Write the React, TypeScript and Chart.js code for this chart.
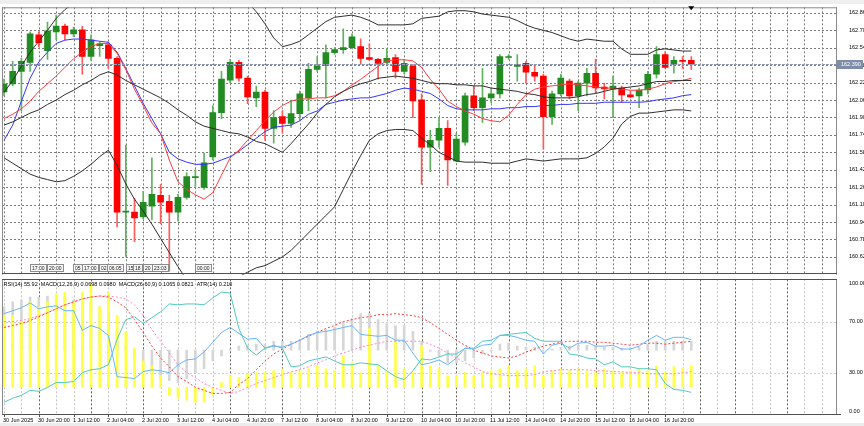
import React, { useEffect, useRef } from 'react';
import { Chart, registerables } from 'chart.js';

Chart.register(...registerables);

// ---------------- data ----------------
const TIME_LABELS = ['30 Jun 2025', '30 Jun 20:00', '1 Jul 12:00', '2 Jul 04:00', '2 Jul 20:00', '3 Jul 12:00', '4 Jul 04:00', '4 Jul 20:00', '7 Jul 12:00', '8 Jul 04:00', '8 Jul 20:00', '9 Jul 12:00', '10 Jul 04:00', '10 Jul 20:00', '11 Jul 12:00', '14 Jul 04:00', '14 Jul 20:00', '15 Jul 12:00', '16 Jul 04:00', '16 Jul 20:00'];
const PRICE_TICKS = [160.62, 160.78, 160.94, 161.10, 161.26, 161.42, 161.58, 161.74, 161.90, 162.06, 162.22, 162.38, 162.54, 162.70, 162.86];
const OSC_TICKS = [0, 30, 70, 100];
const OSC_GRID = [30, 70];

const OPEN = [162.134, 162.207, 162.324, 162.406, 162.659, 162.514, 162.686, 162.740, 162.668, 162.704, 162.460, 162.559, 162.568, 162.442, 161.031, 161.031, 160.986, 161.086, 161.185, 161.131, 161.031, 161.167, 161.348, 161.257, 161.538, 161.945, 162.243, 162.406, 162.261, 162.080, 162.134, 161.800, 161.908, 161.845, 161.935, 162.080, 162.342, 162.378, 162.496, 162.523, 162.541, 162.550, 162.451, 162.433, 162.406, 162.451, 162.324, 162.369, 162.062, 161.628, 161.691, 161.800, 161.502, 161.673, 162.098, 161.990, 162.080, 162.116, 162.451, 162.369, 162.396, 162.315, 162.279, 161.908, 162.116, 162.234, 162.098, 162.216, 162.306, 162.180, 162.162, 162.171, 162.107, 162.098, 162.152, 162.297, 162.478, 162.387, 162.424, 162.424];
const HIGH = [162.252, 162.415, 162.442, 162.686, 162.686, 162.776, 162.839, 162.758, 162.731, 162.740, 162.659, 162.595, 162.595, 162.460, 161.646, 161.158, 161.221, 161.529, 161.285, 161.185, 161.194, 161.393, 161.420, 161.574, 162.008, 162.324, 162.433, 162.424, 162.279, 162.189, 162.152, 161.963, 161.963, 162.053, 162.143, 162.396, 162.460, 162.568, 162.541, 162.713, 162.668, 162.622, 162.577, 162.442, 162.532, 162.478, 162.433, 162.387, 162.116, 161.782, 161.899, 161.872, 161.755, 162.125, 162.189, 162.351, 162.171, 162.478, 162.478, 162.478, 162.415, 162.387, 162.297, 162.143, 162.297, 162.252, 162.234, 162.351, 162.433, 162.216, 162.279, 162.189, 162.143, 162.171, 162.324, 162.550, 162.505, 162.460, 162.460, 162.460];
const LOW = [162.098, 162.189, 161.963, 162.324, 162.550, 162.433, 162.613, 162.613, 162.641, 162.297, 162.424, 162.460, 162.351, 160.896, 160.625, 160.760, 160.968, 160.959, 160.923, 160.489, 160.950, 161.149, 161.267, 161.239, 161.511, 161.890, 162.216, 162.234, 162.026, 161.999, 161.691, 161.664, 161.755, 161.809, 161.872, 161.963, 162.324, 162.080, 162.478, 162.487, 162.532, 162.387, 162.424, 162.252, 162.387, 162.261, 162.297, 161.899, 161.285, 161.402, 161.628, 161.276, 161.493, 161.646, 161.963, 161.854, 162.035, 162.080, 162.433, 162.234, 162.216, 162.234, 161.610, 161.836, 162.098, 162.071, 161.963, 162.098, 162.125, 162.071, 161.899, 162.035, 162.080, 161.990, 162.116, 162.261, 162.351, 162.306, 162.351, 162.342];
const CLOSE = [162.207, 162.324, 162.415, 162.668, 162.586, 162.695, 162.740, 162.668, 162.704, 162.460, 162.613, 162.577, 162.442, 161.031, 161.040, 160.977, 161.122, 161.194, 161.122, 161.031, 161.167, 161.357, 161.357, 161.483, 161.945, 162.252, 162.406, 162.261, 162.089, 162.134, 161.800, 161.899, 161.845, 161.935, 162.116, 162.342, 162.369, 162.496, 162.523, 162.541, 162.641, 162.442, 162.433, 162.396, 162.442, 162.324, 162.396, 162.053, 161.628, 161.691, 161.800, 161.511, 161.701, 162.098, 161.990, 162.080, 162.116, 162.460, 162.460, 162.387, 162.315, 162.279, 161.908, 162.116, 162.261, 162.098, 162.216, 162.306, 162.171, 162.162, 162.189, 162.107, 162.089, 162.152, 162.297, 162.478, 162.360, 162.424, 162.415, 162.390];

const BB_UPPER = [162.13, 162.24, 162.37, 162.50, 162.60, 162.70, 162.81, 162.89, 162.95, 162.98, 163.01, 163.04, 163.05, 163.12, 163.20, 163.25, 163.28, 163.31, 163.37, 163.39, 163.41, 163.43, 163.39, 163.35, 163.30, 163.23, 163.14, 163.05, 162.96, 162.87, 162.76, 162.63, 162.55, 162.57, 162.60, 162.66, 162.72, 162.78, 162.82, 162.83, 162.84, 162.82, 162.79, 162.75, 162.75, 162.75, 162.75, 162.76, 162.81, 162.82, 162.83, 162.87, 162.88, 162.88, 162.87, 162.85, 162.84, 162.83, 162.82, 162.79, 162.75, 162.72, 162.70, 162.68, 162.65, 162.62, 162.60, 162.62, 162.61, 162.60, 162.60, 162.53, 162.48, 162.48, 162.48, 162.52, 162.53, 162.52, 162.51, 162.51];
const BB_MIDDLE = [161.83, 161.86, 161.90, 161.94, 161.97, 162.02, 162.06, 162.11, 162.15, 162.20, 162.24, 162.29, 162.32, 162.29, 162.24, 162.20, 162.16, 162.12, 162.08, 162.03, 161.97, 161.92, 161.86, 161.82, 161.80, 161.78, 161.76, 161.75, 161.72, 161.68, 161.66, 161.62, 161.58, 161.66, 161.75, 161.84, 161.94, 162.02, 162.09, 162.14, 162.18, 162.21, 162.23, 162.26, 162.27, 162.28, 162.27, 162.26, 162.24, 162.22, 162.21, 162.21, 162.20, 162.20, 162.19, 162.19, 162.17, 162.16, 162.15, 162.14, 162.12, 162.11, 162.09, 162.08, 162.08, 162.08, 162.09, 162.11, 162.12, 162.14, 162.16, 162.17, 162.18, 162.19, 162.21, 162.23, 162.23, 162.24, 162.24, 162.24];
const BB_LOWER = [161.53, 161.48, 161.43, 161.38, 161.35, 161.33, 161.31, 161.32, 161.36, 161.41, 161.47, 161.54, 161.60, 161.46, 161.29, 161.15, 161.04, 160.92, 160.79, 160.66, 160.53, 160.41, 160.34, 160.29, 160.30, 160.34, 160.39, 160.44, 160.48, 160.52, 160.54, 160.58, 160.62, 160.68, 160.76, 160.84, 160.92, 161.00, 161.08, 161.24, 161.40, 161.55, 161.69, 161.75, 161.78, 161.79, 161.79, 161.78, 161.71, 161.65, 161.58, 161.54, 161.50, 161.49, 161.49, 161.49, 161.48, 161.48, 161.48, 161.50, 161.52, 161.51, 161.50, 161.51, 161.52, 161.52, 161.52, 161.53, 161.57, 161.63, 161.71, 161.84, 161.91, 161.94, 161.94, 161.95, 161.96, 161.97, 161.97, 161.96];
const MA_BLUE = [161.69, 161.83, 162.05, 162.26, 162.41, 162.50, 162.58, 162.61, 162.62, 162.62, 162.61, 162.60, 162.59, 162.50, 162.35, 162.19, 162.03, 161.89, 161.75, 161.58, 161.52, 161.49, 161.47, 161.47, 161.48, 161.51, 161.54, 161.59, 161.65, 161.71, 161.77, 161.81, 161.82, 161.83, 161.87, 161.93, 161.96, 162.02, 162.04, 162.06, 162.07, 162.08, 162.08, 162.10, 162.12, 162.15, 162.17, 162.16, 162.14, 162.12, 162.07, 162.01, 161.98, 161.97, 161.97, 161.97, 161.98, 161.98, 161.99, 161.99, 162.00, 162.00, 162.01, 162.01, 162.02, 162.02, 162.03, 162.03, 162.03, 162.04, 162.04, 162.04, 162.04, 162.04, 162.045, 162.06, 162.07, 162.08, 162.10, 162.11];
const MA_RED = [161.89, 161.93, 161.98, 162.05, 162.14, 162.21, 162.28, 162.36, 162.44, 162.50, 162.55, 162.58, 162.58, 162.49, 162.34, 162.16, 162.01, 161.85, 161.75, 161.51, 161.31, 161.24, 161.19, 161.15, 161.21, 161.37, 161.53, 161.60, 161.69, 161.78, 161.87, 161.95, 162.01, 162.05, 162.07, 162.07, 162.08, 162.08, 162.10, 162.14, 162.20, 162.25, 162.31, 162.37, 162.42, 162.43, 162.43, 162.42, 162.36, 162.25, 162.16, 162.05, 162.00, 161.96, 161.93, 161.89, 161.87, 161.86, 161.92, 162.02, 162.11, 162.16, 162.18, 162.19, 162.20, 162.21, 162.20, 162.19, 162.18, 162.17, 162.17, 162.16, 162.15, 162.15, 162.16, 162.18, 162.21, 162.23, 162.24, 162.26];

const RSI = [76.2, 78.5, 80.8, 84.6, 80.0, 81.5, 82.3, 78.5, 78.5, 63.1, 66.9, 64.6, 59.2, 26.9, 26.2, 25.4, 30.8, 32.3, 31.5, 30.0, 36.2, 40.0, 40.8, 46.2, 53.8, 61.5, 65.4, 60.8, 56.2, 56.9, 49.2, 50.8, 50.0, 52.3, 55.4, 59.2, 61.5, 62.3, 63.8, 65.4, 66.9, 60.0, 59.2, 58.5, 59.2, 55.4, 55.4, 45.4, 36.2, 37.7, 40.0, 36.2, 41.5, 49.2, 48.5, 51.5, 52.3, 59.2, 59.2, 57.7, 55.4, 54.6, 44.6, 51.5, 53.1, 49.2, 53.1, 53.8, 50.8, 50.8, 51.5, 48.5, 48.5, 50.8, 55.4, 59.2, 55.4, 57.7, 57.7, 55.9];
const OSC_TEAL = [6.9, 10.0, 12.3, 16.2, 15.4, 18.5, 22.3, 22.3, 23.1, 30.0, 32.3, 33.1, 36.2, 56.2, 71.5, 73.8, 68.5, 73.1, 77.7, 83.8, 83.1, 83.8, 83.8, 83.1, 88.5, 93.1, 92.3, 64.6, 49.2, 43.8, 49.2, 51.5, 49.2, 34.6, 35.4, 39.2, 40.8, 42.3, 39.2, 36.2, 36.2, 37.7, 36.9, 36.2, 31.5, 26.9, 24.6, 31.5, 40.8, 40.0, 42.3, 44.6, 44.6, 49.2, 49.2, 54.6, 55.4, 59.2, 60.0, 60.8, 61.5, 56.9, 54.6, 54.6, 54.6, 44.6, 43.8, 41.5, 40.8, 36.2, 38.5, 34.6, 34.6, 33.1, 33.1, 32.3, 21.5, 16.9, 16.2, 14.6];
const MACD_RED = [65.4, 66.9, 68.5, 70.8, 73.8, 76.9, 80.0, 83.1, 85.4, 87.7, 89.2, 90.0, 89.2, 85.4, 80.8, 71.5, 61.5, 50.8, 41.5, 34.6, 26.9, 23.1, 18.5, 16.2, 13.8, 13.8, 14.6, 20.8, 25.4, 32.3, 39.2, 44.6, 48.5, 52.3, 55.4, 58.5, 61.5, 64.6, 66.9, 70.0, 71.5, 73.1, 73.8, 75.4, 75.4, 76.2, 75.4, 74.6, 73.1, 69.2, 64.6, 60.0, 55.4, 51.5, 47.7, 45.4, 43.1, 42.3, 41.5, 43.1, 46.2, 48.5, 50.8, 52.3, 53.8, 54.6, 54.6, 54.6, 53.8, 53.8, 53.1, 52.3, 51.5, 52.3, 53.1, 53.1, 52.3, 53.1, 53.8, 54.6];
const MACD_PINK = [70.0, 70.0, 70.8, 72.3, 74.6, 76.9, 80.0, 83.1, 85.4, 87.7, 89.2, 90.0, 90.0, 89.2, 87.7, 83.1, 74.6, 63.8, 54.6, 45.4, 36.2, 30.0, 26.2, 21.5, 18.5, 16.2, 13.8, 15.4, 18.5, 21.5, 23.8, 26.2, 28.5, 30.8, 32.3, 34.6, 37.7, 40.0, 43.1, 45.4, 47.7, 50.0, 51.5, 53.1, 54.6, 54.6, 54.6, 54.6, 54.6, 52.3, 49.2, 45.4, 41.5, 37.7, 34.6, 30.8, 29.2, 28.5, 27.7, 27.7, 27.7, 28.5, 30.8, 31.5, 32.3, 32.3, 32.3, 32.3, 31.5, 31.5, 30.8, 30.8, 30.0, 30.0, 29.2, 29.2, 29.2, 29.2, 30.0, 30.8];
const HIST_YELLOW = [74.6, 74.6, 70.0, 85.4, 81.5, 85.4, 91.5, 93.1, 85.4, 93.1, 99.2, 81.5, 93.1, 74.6, 62.3, 49.2, 39.2, 35.4, 27.7, 12.3, 10.0, 8.5, 6.9, 6.9, 12.3, 22.3, 27.7, 26.2, 29.2, 30.0, 30.0, 31.5, 33.1, 30.0, 31.5, 33.1, 35.4, 33.1, 31.5, 43.1, 37.7, 30.0, 64.6, 35.4, 31.5, 54.6, 33.1, 30.0, 51.5, 35.4, 33.1, 27.7, 27.7, 30.0, 27.7, 30.0, 31.5, 33.1, 35.4, 31.5, 33.1, 35.4, 27.7, 31.5, 33.1, 31.5, 33.1, 31.5, 30.0, 33.1, 31.5, 30.0, 31.5, 33.1, 31.5, 35.4, 30.0, 34.6, 33.8, 35.4];
const HIST_GRAY = [81.5, 85.4, 86.9, 89.2, 89.2, 90.0, 90.0, 89.2, 86.9, 85.4, 85.4, 81.5, 77.7, 62.3, 50.8, 43.1, 35.4, 30.0, 26.2, 23.8, 22.3, 25.4, 30.0, 33.1, 39.2, 43.1, 48.5, 50.8, 51.5, 52.3, 52.3, 54.6, 54.6, 54.6, 56.2, 60.0, 62.3, 63.8, 65.4, 70.0, 72.3, 76.2, 76.2, 71.5, 68.5, 66.9, 66.9, 62.3, 54.6, 46.9, 43.1, 37.7, 37.7, 39.2, 41.5, 44.6, 46.9, 52.3, 53.1, 50.8, 50.0, 50.0, 46.9, 48.5, 50.0, 50.8, 51.5, 51.5, 50.8, 50.0, 50.0, 49.2, 49.2, 50.0, 52.3, 54.6, 54.6, 54.6, 54.6, 54.6];
const YELLOW_BASE = 18.5;
const GRAY_BASE = 47.7;

const TIME_TAGS = [
  { bar: 3.0, text: '17:00' }, { bar: 4.9, text: '20:00' }, { bar: 7.9, text: '05' }, { bar: 9.0, text: '17:00' },
  { bar: 10.9, text: '02' }, { bar: 11.8, text: '06:05' }, { bar: 14.0, text: '15' }, { bar: 14.8, text: '18' },
  { bar: 16.0, text: '20' }, { bar: 17.0, text: '23:03' }, { bar: 22.0, text: '00:00' },
];
const DARK_GRID = [4, 10, 16, 26, 32, 42, 48, 52, 58, 64, 68, 74, 80, 84, 90];
const INDICATOR_TEXT = 'RSI(14) 55.92  MACD(12,26,9) 0.0698 0.0980  MACD(26,60,9) 0.1065 0.0821  ATR(14) 0.210';

// ---------------- layout constants ----------------
const FONT_FAMILY = "'Liberation Sans', Arial, sans-serif";
const X_MIN = -0.23;
const X_MAX = 95.75;
const GRID_LAST = 94;
const LABEL_EVERY = 4;
const GREEN = '#228b22';
const RED = '#ff0000';
const GREEN_WICK = '#5fb35f';
const RED_WICK = '#ff5a5a';

function gridIndices() {
  const a: number[] = [];
  for (let i = 0; i <= GRID_LAST; i += 2) a.push(i);
  return a;
}
const xy = (arr: number[]) => arr.map((v, i) => ({ x: i, y: v }));
const lineDs = (label: string, arr: number[], color: string, dash: number[] = []) => ({
  type: 'line', label, data: xy(arr), borderColor: color, borderWidth: 1, borderDash: dash,
  pointRadius: 0, tension: 0, order: 0, fill: false,
});

const topPlugin = {
  id: 'mt4Top',
  beforeDatasetsDraw(chart: any) {
    const { ctx, chartArea: a } = chart;
    const xs = chart.scales.x, ys = chart.scales.y;
    ctx.save();
    ctx.lineWidth = 1;
    ctx.setLineDash([2, 2]);
    ctx.strokeStyle = '#7c7c7c';
    for (const i of gridIndices()) {
      const px = Math.round(xs.getPixelForValue(i)) + 0.5;
      if (px <= a.left + 1 || px >= a.right - 1) continue;
      ctx.beginPath(); ctx.moveTo(px, a.top); ctx.lineTo(px, a.bottom); ctx.stroke();
    }
    for (const p of PRICE_TICKS) {
      const py = Math.round(ys.getPixelForValue(p)) + 0.5;
      ctx.beginPath(); ctx.moveTo(a.left, py); ctx.lineTo(a.right, py); ctx.stroke();
    }
    ctx.restore();
  },
  afterDatasetsDraw(chart: any) {
    const { ctx, chartArea: a } = chart;
    const ys = chart.scales.y;
    const last = CLOSE[CLOSE.length - 1];
    const py = Math.round(ys.getPixelForValue(last)) + 0.5;
    ctx.save();
    ctx.strokeStyle = '#8f9ab0';
    ctx.lineWidth = 1;
    ctx.setLineDash([3, 1]);
    ctx.beginPath(); ctx.moveTo(a.left, py); ctx.lineTo(a.right, py); ctx.stroke();
    ctx.restore();
  },
  afterDraw(chart: any) {
    const { ctx, chartArea: a } = chart;
    const xs = chart.scales.x, ys = chart.scales.y;
    ctx.save();
    ctx.setLineDash([]);
    ctx.fillStyle = '#eeeeee';
    ctx.fillRect(0, 0, chart.width, 4);
    ctx.lineWidth = 1;
    ctx.strokeStyle = '#8a8a8a';
    ctx.beginPath();
    ctx.moveTo(a.left + 0.5, a.top); ctx.lineTo(a.left + 0.5, a.bottom);
    ctx.moveTo(a.left, a.top + 0.5); ctx.lineTo(a.right, a.top + 0.5);
    ctx.moveTo(a.right - 0.5, a.top); ctx.lineTo(a.right - 0.5, a.bottom);
    ctx.stroke();
    ctx.strokeStyle = '#505050';
    const by = Math.floor(a.bottom) - 0.5;
    ctx.beginPath(); ctx.moveTo(a.left, by); ctx.lineTo(a.right, by); ctx.stroke();

    // bid price box
    const last = CLOSE[CLOSE.length - 1];
    const py = ys.getPixelForValue(last);
    ctx.fillStyle = '#7e8dab';
    ctx.fillRect(a.right, Math.round(py) - 4, 26, 9);
    ctx.fillStyle = '#ffffff';
    ctx.font = `5.5px ${FONT_FAMILY}`;
    ctx.textAlign = 'left';
    ctx.textBaseline = 'middle';
    ctx.fillText(last.toFixed(3), a.right + 4, Math.round(py) + 0.5);

    // shift marker
    const tx = xs.getPixelForValue(CLOSE.length - 1);
    ctx.fillStyle = '#000';
    ctx.beginPath(); ctx.moveTo(tx - 3, a.top - 1); ctx.lineTo(tx + 3, a.top - 1); ctx.lineTo(tx, a.top + 3); ctx.closePath(); ctx.fill();

    // time tags
    ctx.font = `5px ${FONT_FAMILY}`;
    const tagTop = Math.floor(a.bottom) - 9.5;
    for (const t of TIME_TAGS) {
      const x0 = Math.round(xs.getPixelForValue(t.bar)) + 0.5;
      const w = Math.ceil(ctx.measureText(t.text).width) + 3;
      ctx.fillStyle = '#f6f6f6';
      ctx.fillRect(x0, tagTop, w, 7);
      ctx.strokeStyle = '#8c8c8c';
      ctx.strokeRect(x0, tagTop, w, 7);
      ctx.fillStyle = '#222';
      ctx.fillText(t.text, x0 + 1.5, tagTop + 3.7);
    }
    ctx.restore();
  },
};

const bottomPlugin = {
  id: 'mt4Bottom',
  beforeDatasetsDraw(chart: any) {
    const { ctx, chartArea: a } = chart;
    const xs = chart.scales.x, ys = chart.scales.y;
    ctx.save();
    ctx.lineWidth = 1;
    ctx.setLineDash([2, 2]);
    for (const i of gridIndices()) {
      const px = Math.round(xs.getPixelForValue(i)) + 0.5;
      if (px <= a.left + 1 || px >= a.right - 1) continue;
      ctx.strokeStyle = DARK_GRID.includes(i) ? '#606060' : '#c4c4c4';
      ctx.beginPath(); ctx.moveTo(px, a.top); ctx.lineTo(px, a.bottom); ctx.stroke();
    }
    ctx.strokeStyle = '#cfcfcf';
    for (const v of OSC_GRID) {
      const py = Math.round(ys.getPixelForValue(v)) + 0.5;
      ctx.beginPath(); ctx.moveTo(a.left, py); ctx.lineTo(a.right, py); ctx.stroke();
    }
    ctx.restore();
  },
  afterDraw(chart: any) {
    const { ctx, chartArea: a } = chart;
    const xs = chart.scales.x;
    ctx.save();
    ctx.setLineDash([]);
    ctx.lineWidth = 1;
    ctx.strokeStyle = '#8a8a8a';
    ctx.beginPath();
    ctx.moveTo(a.left + 0.5, a.top); ctx.lineTo(a.left + 0.5, a.bottom);
    ctx.moveTo(a.right - 0.5, a.top); ctx.lineTo(a.right - 0.5, a.bottom);
    ctx.stroke();
    ctx.strokeStyle = '#505050';
    ctx.beginPath();
    ctx.moveTo(a.left, Math.round(a.top) + 0.5); ctx.lineTo(a.right, Math.round(a.top) + 0.5);
    ctx.moveTo(a.left, Math.round(a.bottom) + 0.5); ctx.lineTo(a.right + 4, Math.round(a.bottom) + 0.5);
    ctx.stroke();
    // time axis: tick marks and labels placed with the x scale
    ctx.fillStyle = '#000';
    ctx.font = `5.5px ${FONT_FAMILY}`;
    ctx.textAlign = 'left';
    ctx.textBaseline = 'middle';
    for (let k = 0; k < TIME_LABELS.length; k++) {
      const px = Math.round(xs.getPixelForValue(k * LABEL_EVERY)) + 0.5;
      ctx.beginPath(); ctx.moveTo(px, Math.round(a.bottom)); ctx.lineTo(px, Math.round(a.bottom) + 3); ctx.stroke();
      ctx.fillText(TIME_LABELS[k], px - 1.5, Math.round(a.bottom) + 6.5);
    }
    // indicator header
    ctx.fillText(INDICATOR_TEXT, a.left + 1.5, a.top + 5);
    // status strip
    ctx.fillStyle = '#ececec';
    ctx.fillRect(0, chart.height - 3, chart.width, 3);
    ctx.restore();
  },
};

function topConfig(): any {
  return {
    type: 'bar',
    data: {
      datasets: [
        lineDs('BB upper', BB_UPPER, '#2e2e2e'),
        lineDs('BB middle', BB_MIDDLE, '#2e2e2e'),
        lineDs('BB lower', BB_LOWER, '#2e2e2e'),
        lineDs('MA red', MA_RED, '#ff3a3a'),
        lineDs('MA blue', MA_BLUE, '#3535ff'),
        {
          type: 'bar', label: 'body',
          data: OPEN.map((o, i) => ({ x: i, y: [o, CLOSE[i]] })),
          backgroundColor: OPEN.map((o, i) => (CLOSE[i] >= o ? GREEN : RED)),
          borderWidth: 0, barThickness: 6, grouped: false, minBarLength: 1, order: 1,
        },
        {
          type: 'bar', label: 'wick',
          data: LOW.map((l, i) => ({ x: i, y: [l, HIGH[i]] })),
          backgroundColor: OPEN.map((o, i) => (CLOSE[i] >= o ? GREEN_WICK : RED_WICK)),
          borderWidth: 0, barThickness: 1, grouped: false, order: 2,
        },
      ],
    },
    options: {
      responsive: false, animation: false, devicePixelRatio: 1, events: [],
      layout: { padding: { left: 2, top: 5, right: 0, bottom: 5.5 } },
      plugins: { legend: { display: false }, tooltip: { enabled: false } },
      scales: {
        x: { type: 'linear', min: X_MIN, max: X_MAX, offset: false, display: false },
        y: {
          type: 'linear', position: 'right', min: 160.4567, max: 162.9115,
          grid: { display: false }, border: { display: false },
          afterFit: (s: any) => { s.width = 27; },
          afterBuildTicks: (s: any) => { s.ticks = PRICE_TICKS.map((v) => ({ value: v })); },
          ticks: {
            autoSkip: false, padding: 4, color: '#000',
            font: { size: 5.5, family: FONT_FAMILY },
            callback: (v: any) => Number(v).toFixed(3),
          },
        },
      },
    },
    plugins: [topPlugin],
  };
}

function bottomConfig(): any {
  return {
    type: 'bar',
    data: {
      datasets: [
        lineDs('RSI', RSI, '#68b4ff'),
        lineDs('Osc', OSC_TEAL, '#55c8c0'),
        lineDs('MACD', MACD_RED, '#ff3a3a', [2, 2]),
        lineDs('Signal', MACD_PINK, '#ff86c8', [2, 2]),
        {
          type: 'bar', label: 'hist yellow',
          data: HIST_YELLOW.map((v, i) => ({ x: i, y: [YELLOW_BASE, v] })),
          backgroundColor: '#ffff44', borderWidth: 0, barThickness: 2, grouped: false, order: 1,
        },
        {
          type: 'bar', label: 'hist gray',
          data: HIST_GRAY.map((v, i) => ({ x: i, y: [GRAY_BASE, v] })),
          backgroundColor: '#d6d6d6', borderWidth: 0, barThickness: 2, grouped: false, order: 2,
        },
      ],
    },
    options: {
      responsive: false, animation: false, devicePixelRatio: 1, events: [],
      layout: { padding: { left: 2, top: 5, right: 0, bottom: 0 } },
      plugins: { legend: { display: false }, tooltip: { enabled: false } },
      scales: {
        x: {
          type: 'linear', min: X_MIN, max: X_MAX, offset: false, position: 'bottom',
          grid: { display: false }, border: { display: false },
          afterFit: (s: any) => { s.height = 12; },
          ticks: { display: false },
        },
        y: {
          type: 'linear', position: 'right', min: -2.31, max: 103.08,
          grid: { display: false }, border: { display: false },
          afterFit: (s: any) => { s.width = 27; },
          afterBuildTicks: (s: any) => { s.ticks = OSC_TICKS.map((v) => ({ value: v })); },
          ticks: {
            autoSkip: false, padding: 4, color: '#000',
            font: { size: 5.5, family: FONT_FAMILY },
            callback: (v: any) => Number(v).toFixed(2),
          },
        },
      },
    },
    plugins: [bottomPlugin],
  };
}

export default function App() {
  const topRef = useRef<HTMLCanvasElement | null>(null);
  const botRef = useRef<HTMLCanvasElement | null>(null);
  useEffect(() => {
    const top = new Chart(topRef.current as HTMLCanvasElement, topConfig());
    const bot = new Chart(botRef.current as HTMLCanvasElement, bottomConfig());
    return () => { top.destroy(); bot.destroy(); };
  }, []);
  return (
    <div style={{ position: 'fixed', left: 0, top: 0, width: 864, height: 426, background: '#ffffff', overflow: 'hidden' }}>
      <canvas ref={topRef} width={864} height={282} style={{ position: 'absolute', left: 0, top: 0, width: 864, height: 282 }} />
      <canvas ref={botRef} width={864} height={154} style={{ position: 'absolute', left: 0, top: 272, width: 864, height: 154 }} />
    </div>
  );
}
